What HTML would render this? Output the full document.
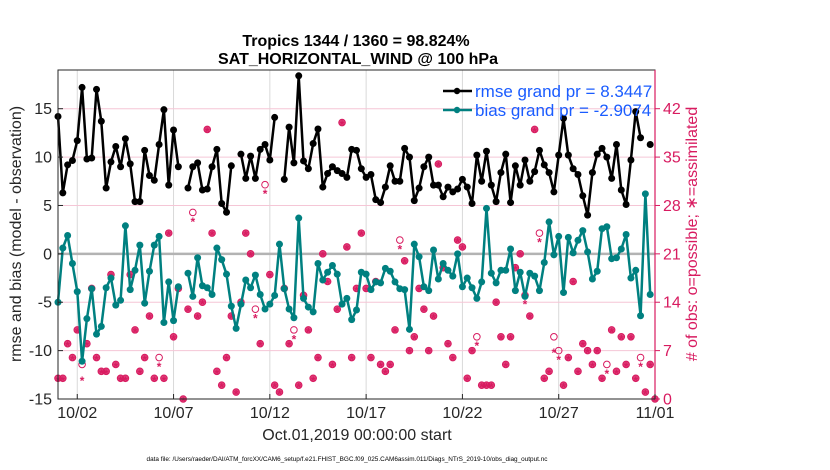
<!DOCTYPE html>
<html><head><meta charset="utf-8"><style>
html,body{margin:0;padding:0;background:#fff;}
svg{display:block;font-family:"Liberation Sans",sans-serif;}
</style></head><body>
<svg id="chart" width="830" height="470" viewBox="0 0 830 470" xmlns="http://www.w3.org/2000/svg">
<text x="356" y="46" text-anchor="middle" font-size="16" font-weight="bold" fill="#000">Tropics 1344 / 1360 = 98.824%</text>
<text x="358" y="64" text-anchor="middle" font-size="16" font-weight="bold" fill="#000">SAT_HORIZONTAL_WIND @ 100 hPa</text>
<g id="grid"></g>
<g id="obs"></g>
<g id="series"></g>
<g id="axes"></g>
<text transform="translate(21,234) rotate(-90)" text-anchor="middle" font-size="16" fill="#262626">rmse and bias (model - observation)</text>
<text transform="translate(697,234) rotate(-90)" text-anchor="middle" font-size="16" fill="#d81b60"># of obs: o=possible; ∗=assimilated</text>
<text x="357" y="440" text-anchor="middle" font-size="16" fill="#262626">Oct.01,2019 00:00:00 start</text>
<text x="347" y="461" text-anchor="middle" font-size="6.4" fill="#000">data file: /Users/raeder/DAI/ATM_forcXX/CAM6_setup/f.e21.FHIST_BGC.f09_025.CAM6assim.011/Diags_NTrS_2019-10/obs_diag_output.nc</text>
<g>
<line x1="443" y1="91" x2="472" y2="91" stroke="#000" stroke-width="2.5"/><circle cx="457" cy="91" r="3.2" fill="#000"/>
<text x="475" y="97" font-size="17" fill="#1a5cff">rmse grand pr = 8.3447</text>
<line x1="443" y1="110" x2="472" y2="110" stroke="#008080" stroke-width="2.5"/><circle cx="457" cy="110" r="3.2" fill="#008080"/>
<text x="475" y="116" font-size="17" fill="#1a5cff">bias grand pr = -2.9074</text>
</g>
</svg>
<script>
const xTickLabels = ["10/02","10/07","10/12","10/17","10/22","10/27","11/01"];
const xTickDays = [1,6,11,16,21,26,31];
const yTicks = [-15,-10,-5,0,5,10,15];
const y2Ticks = [0,7,14,21,28,35,42];
const rmse = [14.2,6.3,9.2,9.65,11.7,17.2,9.8,9.9,17.0,13.7,6.8,9.5,11.1,9.0,11.9,9.3,5.4,5.4,10.7,8.1,7.6,11.3,14.9,7.1,12.8,9.0,null,6.8,9.0,9.4,6.6,6.7,9.0,10.8,5.2,4.3,9.1,null,10.3,7.8,10.1,7.8,10.8,11.3,9.7,14.1,null,7.7,13.1,9.4,18.4,9.6,8.8,11.4,12.9,6.9,8.3,9.0,8.6,8.3,7.9,10.8,10.7,8.8,7.9,8.2,5.6,5.3,6.9,9.1,7.5,7.5,10.9,10.0,5.5,6.8,9.0,10.0,7.1,7.1,5.9,6.9,6.4,6.7,7.7,6.9,5.2,10.2,7.5,10.6,7.1,5.4,8.4,10.3,5.3,9.1,7.1,9.7,7.5,8.5,10.7,9.2,8.4,6.4,10.2,14.0,10.2,8.8,8.2,6.0,4.0,8.4,10.3,10.9,10.0,7.8,11.3,6.6,5.1,9.7,14.7,12.0,null,11.3,null];
const bias = [-5.0,0.6,1.9,-1.0,-3.9,-11.1,-6.7,-3.6,-8.3,-7.5,-3.5,-2.5,-5.3,-4.8,2.9,-3.7,-1.7,0.9,-5.1,-1.8,0.9,1.8,-7.1,-2.9,-6.9,-3.4,null,-2.0,-4.4,-0.4,-3.3,-3.5,-4.2,0.6,-0.6,-2.1,-5.4,-7.7,-5.2,-2.7,-3.5,-2.2,-4.2,-5.7,-5.2,-4.3,1.0,-3.6,-5.7,-6.6,3.7,-4.6,-5.5,-6.0,-1.0,-2.7,-1.9,-1.2,-2.1,-5.2,-4.6,-6.8,-5.8,-1.9,-2.1,-3.7,-2.9,-3.0,-1.5,-1.8,-2.9,-3.6,-3.7,-7.8,1.0,-0.3,-3.4,-3.8,0.4,-2.6,-1.0,-1.7,-2.3,0.0,-3.4,-2.5,-3.5,-4.6,-2.9,4.7,-2.0,-3.0,-1.7,-1.7,0.5,-3.8,-1.9,-4.4,-2.0,-2.3,-3.8,-0.9,3.3,-0.1,1.8,-4.0,1.7,0.1,1.4,2.4,0.2,-2.6,-1.8,2.6,2.8,-0.5,-0.4,0.5,2.0,-2.5,-1.7,-6.4,6.2,-4.2,null];
const nPossible = [3,3,8,6,10,5,8,16,6,4,4,18,5,3,3,18,10,4,6,12,3,6,3,24,9,16,0,13,27,12,14,39,24,4,2,6,12,1,14,24,21,13,8,31,18,2,1,16,8,10,2,15,10,3,6,21,17,5,13,40,22,6,16,24,16,6,17,5,4,5,10,23,20,7,9,16,13,7,12,34,19,8,6,23,22,3,7,9,2,2,2,14,9,5,9,19,21,15,12,39,24,3,4,9,7,2,6,17,4,8,7,5,7,3,5,10,4,9,5,9,3,6,1,5,0];
const nAssim = [3,3,8,6,10,3,8,16,6,4,4,18,5,3,3,18,10,4,6,12,3,5,3,24,9,16,0,13,26,12,14,39,24,4,2,6,12,1,14,24,21,12,8,30,18,2,1,16,8,9,2,15,10,3,6,21,17,5,13,40,22,6,16,24,16,6,17,5,4,5,10,22,20,7,9,16,13,7,12,34,19,8,6,23,22,3,7,8,2,2,2,14,9,5,9,19,21,14,12,39,23,3,4,7,6,2,6,17,4,8,7,5,7,3,4,10,4,9,5,9,3,5,1,5,0];

const NS="http://www.w3.org/2000/svg";
const L=58,R=655,T=70,B=399;
const yMin=-15,yMax=19,y2Min=0,y2Max=47.6,xMin=0,xMax=31;
function xs(d){return L+(d-xMin)/(xMax-xMin)*(R-L);}
function ys(v){return B-(v-yMin)/(yMax-yMin)*(B-T);}
function y2s(v){return B-(v-y2Min)/(y2Max-y2Min)*(B-T);}
function mk(tag,attrs,parent){const e=document.createElementNS(NS,tag);for(const k in attrs)e.setAttribute(k,attrs[k]);parent.appendChild(e);return e;}
const grid=document.getElementById('grid'),axes=document.getElementById('axes'),series=document.getElementById('series'),obs=document.getElementById('obs');
const MAG="#d81b60";
xTickDays.forEach(d=>{const l=mk('line',{x1:xs(d),x2:xs(d),y1:T,y2:B,stroke:'#d9d9d9','stroke-width':1},grid);

});
y2Ticks.forEach(v=>{if(v===0||v===21)return;const l=mk('line',{x1:L,x2:R,y1:y2s(v),y2:y2s(v),stroke:'#f5c6d6','stroke-width':1},grid);

});
const z=mk('line',{x1:L,x2:R,y1:ys(0),y2:ys(0),stroke:'#b3b3b3','stroke-width':2.5},grid);


nPossible.forEach((v,i)=>{const x=xs(i*0.25);
const c=mk('circle',{cx:x,cy:y2s(v),r:3.3,fill:'none',stroke:MAG,'stroke-width':1},obs);


const a=nAssim[i];
const t=mk('text',{x:x,y:y2s(a)+6.5,'text-anchor':'middle','font-size':12,'font-weight':'bold',fill:MAG},obs);t.textContent='*';


if(a===v){const f=mk('circle',{cx:x,cy:y2s(v),r:3.3,fill:MAG,'fill-opacity':0.85},obs);

}
});
function drawSeries(arr,color,name){let d='';let pen=false;
arr.forEach((v,i)=>{if(v===null){pen=false;return;}d+=(pen?'L':'M')+xs(i*0.25).toFixed(1)+' '+ys(v).toFixed(1);pen=true;});
const p=mk('path',{d:d,fill:'none',stroke:color,'stroke-width':2.5,'stroke-linejoin':'round'},series);


arr.forEach((v,i)=>{if(v===null)return;const c=mk('circle',{cx:xs(i*0.25),cy:ys(v),r:3.5,fill:color},series);

});}
drawSeries(rmse,'#000','rmse');
drawSeries(bias,'#008080','bias');
const bx=mk('rect',{x:L,y:T,width:R-L,height:B-T,fill:'none',stroke:'#262626','stroke-width':1},axes);


const ra=mk('line',{x1:R,x2:R,y1:T,y2:B,stroke:MAG,'stroke-width':1.2},axes);


yTicks.forEach(v=>{mk('line',{x1:L,x2:L+5,y1:ys(v),y2:ys(v),stroke:'#262626'},axes);
const t=mk('text',{x:L-6,y:ys(v)+5.5,'text-anchor':'end','font-size':16,fill:'#262626'},axes);t.textContent=v;

});
y2Ticks.forEach(v=>{mk('line',{x1:R,x2:R+5,y1:y2s(v),y2:y2s(v),stroke:MAG},axes);
const t=mk('text',{x:R+8,y:y2s(v)+5.5,'font-size':16,fill:MAG},axes);t.textContent=v;

});
xTickDays.forEach((d,i)=>{mk('line',{x1:xs(d),x2:xs(d),y1:B,y2:B-5,stroke:'#262626'},axes);
const t=mk('text',{x:xs(d),y:B+19,'text-anchor':'middle','font-size':16,fill:'#262626'},axes);t.textContent=xTickLabels[i];

});
</script>
</body></html>
